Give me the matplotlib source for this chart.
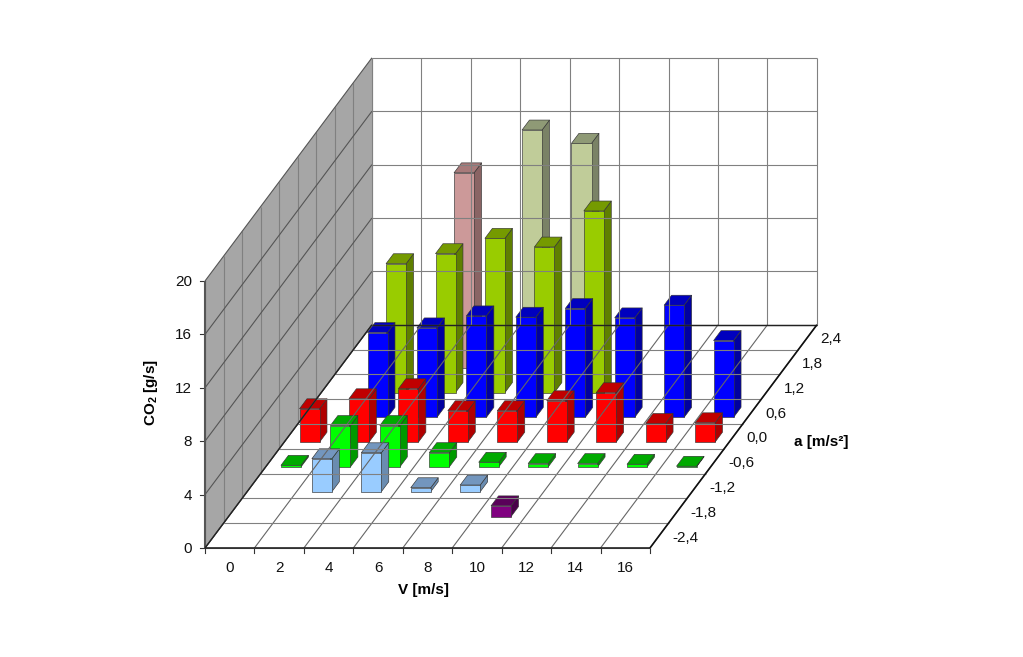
import numpy as np
from matplotlib import pyplot as plt
from matplotlib.patches import Polygon

plt.rcParams['font.family'] = ['Liberation Sans', 'DejaVu Sans']
plt.rcParams['mathtext.fontset'] = 'custom'
plt.rcParams['mathtext.bf'] = 'Liberation Sans:bold'

nan = float('nan')

# Data
v_labels = ['0', '2', '4', '6', '8', '10', '12', '14', '16']
a_labels = ['-2,4', '-1,8', '-1,2', '-0,6', '0,0', '0,6', '1,2', '1,8', '2,4']
z_ticks = [0, 4, 8, 12, 16, 20]

co2_m24 = [nan] * 9
co2_m18 = [nan, nan, nan, nan, nan, 0.8, nan, nan, nan]
co2_m12 = [nan, 2.47, 2.92, 0.3, 0.5, nan, nan, nan, nan]
co2_m06 = [0.12, 3.1, 3.1, 1.07, 0.35, 0.25, 0.25, 0.2, 0.05]
co2_00 = [2.5, 3.25, 4.0, 2.35, 2.35, 3.1, 3.7, 1.4, 1.45]
co2_06 = [nan, 6.35, 6.7, 7.6, 7.5, 8.15, 7.45, 8.4, 5.75]
co2_12 = [nan, 9.65, 10.4, 11.55, 10.9, 13.6, nan, nan, nan]
co2_18 = [nan, nan, 14.6, nan, nan, nan, nan, nan, nan]
co2_24 = [nan, nan, nan, 15.95, 14.95, nan, nan, nan, nan]

rows = [co2_m24, co2_m18, co2_m12, co2_m06, co2_00, co2_06, co2_12, co2_18, co2_24]
# front, top, side
row_colors = [
    ('#800080', '#5A005A', '#4A004A'),
    ('#800080', '#5A005A', '#4A004A'),
    ('#99CCFF', '#7396BE', '#6A8CB0'),
    ('#00FF00', '#00AA00', '#009900'),
    ('#FF0000', '#C00000', '#B00000'),
    ('#0000FF', '#0000BE', '#0000A0'),
    ('#99CC00', '#759A00', '#5F7F00'),
    ('#CC9999', '#A87A7A', '#8A6464'),
    ('#C0CC99', '#8F9A76', '#7A8266'),
]

# Oblique projection of the Excel chart box
x0, y0 = 205, 548
v_step = 49.44
d_dx, d_dy = 18.55, 24.8
z_scale = 13.35


def proj(v, d, z):
    return (x0 + v * v_step + d * d_dx, y0 - d * d_dy - z * z_scale)


def line(ax, p, q, color='#808080', lw=0.8):
    ax.plot([p[0], q[0]], [p[1], q[1]], color=color, lw=lw, solid_capstyle='butt')


fig = plt.figure(figsize=(10.23, 6.57), dpi=100)
ax = fig.add_axes([0, 0, 1, 1])
ax.set_xlim(0, 1023)
ax.set_ylim(657, 0)
ax.axis('off')

# Left wall
ax.add_patch(Polygon([proj(0, 0, 0), proj(0, 9, 0), proj(0, 9, 20), proj(0, 0, 20)],
                     facecolor='#A6A6A6', edgecolor='none'))
for d in range(10):
    line(ax, proj(0, d, 0), proj(0, d, 20))
for z in z_ticks:
    line(ax, proj(0, 0, z), proj(0, 9, z), color='#555555')
    line(ax, proj(0, 9, z), proj(9, 9, z))
    ax.plot([x0 - 5, x0], [proj(0, 0, z)[1]] * 2, color='#333333', lw=0.8)
    ax.text(192, proj(0, 0, z)[1] + 1, str(z), ha='right', va='center', fontsize=11, color='#111111')

# Back wall and floor
for v in range(10):
    line(ax, proj(v, 9, 0), proj(v, 9, 20))
    line(ax, proj(v, 0, 0), proj(v, 9, 0), color='#666666')
    ax.plot([proj(v, 0, 0)[0]] * 2, [y0, y0 + 5], color='#333333', lw=0.8)
for d in range(10):
    line(ax, proj(0, d, 0), proj(9, d, 0))

line(ax, proj(0, 9, 0), proj(9, 9, 0), color='#222222', lw=1)
line(ax, proj(0, 0, 0), proj(0, 0, 20), color='#555555', lw=1.5)
line(ax, proj(0, 0, 0), proj(0, 9, 0), color='#222222', lw=1)
line(ax, proj(0, 0, 0), proj(9, 0, 0), color='#222222', lw=1.2)
line(ax, proj(9, 0, 0), proj(9, 9, 0), color='#111111', lw=1.2)

# Bars, back row first
v_a, v_b = 0.31, 0.715
d_a, d_b = 0.27, 0.67
for i in range(8, -1, -1):
    front, top, side = row_colors[i]
    for j, val in enumerate(rows[i]):
        if np.isnan(val):
            continue
        l, r = j + v_a, j + v_b
        n, f = i + d_a, i + d_b
        faces = [
            ([proj(r, n, 0), proj(r, f, 0), proj(r, f, val), proj(r, n, val)], side),
            ([proj(l, n, val), proj(r, n, val), proj(r, f, val), proj(l, f, val)], top),
            ([proj(l, n, 0), proj(r, n, 0), proj(r, n, val), proj(l, n, val)], front),
        ]
        for pts, col in faces:
            ax.add_patch(Polygon(pts, facecolor=col, edgecolor='#333333', lw=0.45, joinstyle='round'))

# Tick labels and axis titles
for j, lab in enumerate(v_labels):
    ax.text(proj(j + 0.5, 0, 0)[0], 568, lab, ha='center', va='center', fontsize=11, color='#111111')
for i, lab in enumerate(a_labels):
    px, py = proj(9, i + 0.5, 0)
    ax.text(px + 13, py + 2, lab, ha='left', va='center', fontsize=11, color='#111111')

ax.text(423, 590, 'V [m/s]', ha='center', va='center', fontsize=11, fontweight='bold')
ax.text(821, 442, 'a [m/s²]', ha='center', va='center', fontsize=11, fontweight='bold')
ax.text(151, 393, r'CO$\mathbf{_2}$ [g/s]', ha='center', va='center', rotation=90,
        fontsize=11, fontweight='bold')

fig.savefig('out.png', dpi=100)
